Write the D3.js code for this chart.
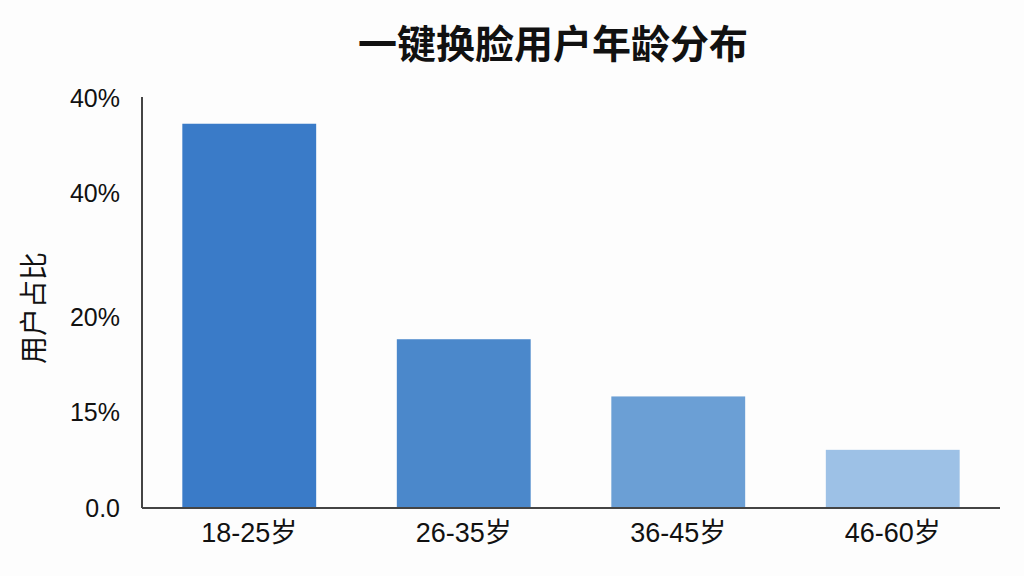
<!DOCTYPE html>
<html><head><meta charset="utf-8">
<script src="https://cdn.jsdelivr.net/npm/d3@7/dist/d3.min.js"></script>
<style>html,body{margin:0;padding:0;background:#fdfdfd;}svg{display:block;}</style>
</head><body>
<svg id="chart" width="1024" height="576"></svg>
<script>
const titleText = "一键换脸用户年龄分布";
const yLabelText = "用户占比";
const categories = ["18-25岁", "26-35岁", "36-45岁", "46-60岁"];
const values = [40.3, 17.7, 11.7, 6.1];
const barColors = ["#3a7bc8", "#4b88cb", "#6b9fd5", "#9dc1e6"];
const tickValues = [0, 10, 20, 33, 43];
const tickLabels = ["0.0", "15%", "20%", "40%", "40%"];

const svg = d3.select("#chart");
const W = 1024, H = 576;
const margin = {left: 142, right: 24, top: 98, bottom: 68};
const font = "'Liberation Sans',Arial,'Noto Sans CJK SC',sans-serif";
const cjk = "'Noto Sans CJK SC','Liberation Sans',sans-serif";

svg.append("rect").attr("width", W).attr("height", H).attr("fill", "#fdfdfd");

const x = d3.scaleBand().domain(categories)
  .range([margin.left, W - margin.right])
  .paddingInner(0.376).paddingOuter(0.188);
const y = d3.scaleLinear().domain([0, 43]).range([H - margin.bottom, margin.top]);

svg.append("g").selectAll("rect").data(categories).join("rect")
  .attr("x", d => x(d))
  .attr("width", x.bandwidth())
  .attr("y", (d, i) => y(values[i]))
  .attr("height", (d, i) => y(0) - y(values[i]))
  .attr("fill", (d, i) => barColors[i]);

// y axis
const yAxis = d3.axisLeft(y).tickValues(tickValues)
  .tickFormat((d, i) => tickLabels[i]).tickSize(0).tickPadding(22);
const gy = svg.append("g").attr("transform", `translate(${margin.left},0)`).call(yAxis);
gy.select(".domain").attr("stroke", "#444").attr("stroke-width", 2)
  .attr("d", `M0,${y(0)}V${y(43) - 1}`);
gy.selectAll("text").attr("font-family", font).attr("font-size", 25).attr("fill", "#111");

// x axis
const xAxis = d3.axisBottom(x).tickSize(0).tickPadding(15);
const gx = svg.append("g").attr("transform", `translate(0,${y(0)})`).call(xAxis);
gx.select(".domain").attr("stroke", "#444").attr("stroke-width", 2)
  .attr("d", `M${margin.left},0H${W - margin.right}`);
gx.selectAll("text").attr("font-family", font).attr("font-size", 27).attr("fill", "#111");

// title
svg.append("text").attr("x", 553).attr("y", 47)
  .attr("text-anchor", "middle").attr("dominant-baseline", "middle")
  .attr("font-family", cjk).attr("font-weight", "bold").attr("font-size", 39)
  .attr("fill", "#111").text(titleText);

// y label
svg.append("text").attr("transform", `translate(36,${(y(0) + y(43)) / 2 + 5}) rotate(-90)`)
  .attr("text-anchor", "middle").attr("dominant-baseline", "middle")
  .attr("font-family", cjk).attr("font-size", 28).attr("fill", "#111").text(yLabelText);
</script>
</body></html>
